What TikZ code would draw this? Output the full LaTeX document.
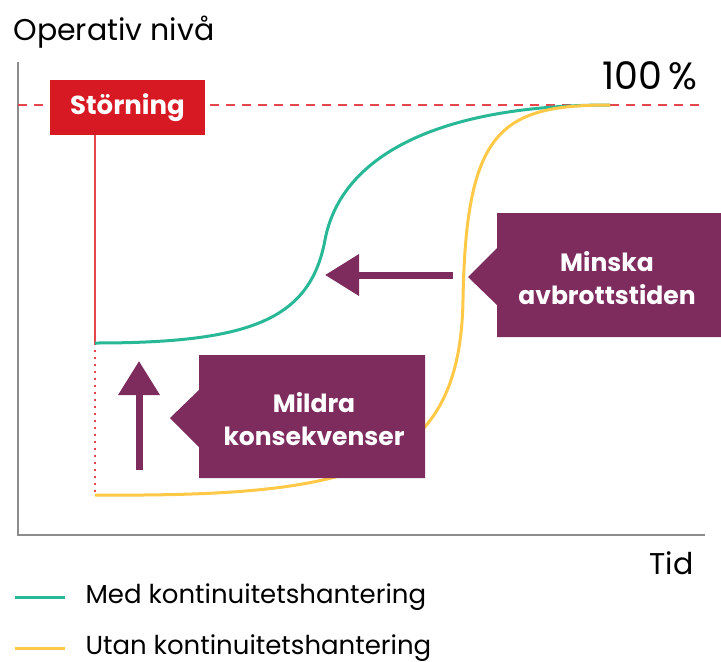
\documentclass[tikz,border=0pt]{standalone}
\usepackage{fontspec}
\setmainfont{Poppins}
\usetikzlibrary{arrows.meta, calc}

\definecolor{stopred}{RGB}{215,25,35}
\definecolor{levelred}{RGB}{228,70,75}
\definecolor{contgreen}{RGB}{40,184,150}
\definecolor{nocontyellow}{RGB}{255,200,70}
\definecolor{actionpurple}{RGB}{126,44,94}
\definecolor{axisgray}{RGB}{140,140,140}

\begin{document}
\begin{tikzpicture}[
		x={(1pt,0pt)}, y={(0pt,-1pt)}, % pixel grid, y pointing down
		font=\fontsize{30}{34}\selectfont,
		axisline/.style={axisgray, line width=1.2pt},
		curve/.style={line width=3pt},
		labelbox/.style={text=white, font=\bfseries\fontsize{25}{33}\selectfont, align=center},
		fatarrow/.style={actionpurple, line width=7pt, -{Triangle[length=34pt, width=40pt]}},
		legendtext/.style={anchor=west, font=\fontsize{26}{30}\selectfont}
		]
		
		\useasboundingbox (0,0) rectangle (721,662);
		
		% --- 1. Axes ---
		\coordinate (O) at (18,535);
		\coordinate (Ytop) at (18,62);
		\coordinate (Xend) at (705,535);
		\draw[axisline] (Ytop) -- (O) -- (Xend);
		\node[anchor=base west] (ylabel) at (10,40) {Operativ nivå};
		\node[anchor=base east, font=\fontsize{30}{34}\selectfont] (xlabel) at (697,574) {Tid};
		
		% --- 2. Full level (100 %) ---
		\draw[levelred, line width=1.3pt, dash pattern=on 9pt off 7pt] (18,105) -- (705,105);
		\node[anchor=base east, font=\fontsize{38}{42}\selectfont] (full) at (701,89) {100\,\%};
		
		% --- 3. Disturbance ---
		\node[fill=stopred, minimum width=155pt, minimum height=55pt, text=white,
		font=\bfseries\fontsize{26}{30}\selectfont] (storning) at (127.5,107.5) {Störning};
		\coordinate (drop) at (95,343);
		\coordinate (bottom) at (95,495);
		\draw[levelred, line width=1.3pt] (storning.south -| drop) -- (drop);
		\draw[levelred, line width=2pt, dash pattern=on 2pt off 5pt] (drop) -- (bottom);
		
		% --- 4. Recovery curves ---
		% with continuity management
		\draw[curve, contgreen] (drop) .. controls (250,343) and (310,320) .. (325,240)
		.. controls (340,160) and (430,105) .. (610,105);
		% without continuity management
		\draw[curve, nocontyellow] (bottom) .. controls (360,497) and (460,470) .. (463,300)
		.. controls (466,130) and (500,105) .. (610,105);
		
		% --- 5. Callouts ---
		\fill[actionpurple] (497,213) -- (721,213) -- (721,337) -- (497,337) -- (497,305)
		-- (468,277) -- (497,248) -- cycle;
		\node[labelbox] (minska) at (607,278) {Minska\\avbrottstiden};
		
		\fill[actionpurple] (199,355) -- (425,355) -- (425,478) -- (199,478) -- (199,447)
		-- (170,418) -- (199,390) -- cycle;
		\node[labelbox] (mildra) at (314,419) {Mildra\\konsekvenser};
		
		% --- 6. Arrows ---
		\coordinate (shorterStart) at (453,275);
		\coordinate (shorterEnd) at (325,275);
		\draw[fatarrow] (shorterStart) -- (shorterEnd);
		\coordinate (milderStart) at (139,470);
		\coordinate (milderEnd) at (139,361);
		\draw[fatarrow] (milderStart) -- (milderEnd);
		
		% --- 7. Legend ---
		\coordinate (legA1) at (15,597);
		\coordinate (legA2) at (65,597);
		\coordinate (legB1) at (15,648);
		\coordinate (legB2) at (65,648);
		\draw[curve, contgreen] (legA1) -- (legA2);
		\draw[curve, nocontyellow] (legB1) -- (legB2);
		\node[legendtext] (med) at (82,597) {Med kontinuitetshantering};
		\node[legendtext] (utan) at (82,648) {Utan kontinuitetshantering};
		
	\end{tikzpicture}
\end{document}
